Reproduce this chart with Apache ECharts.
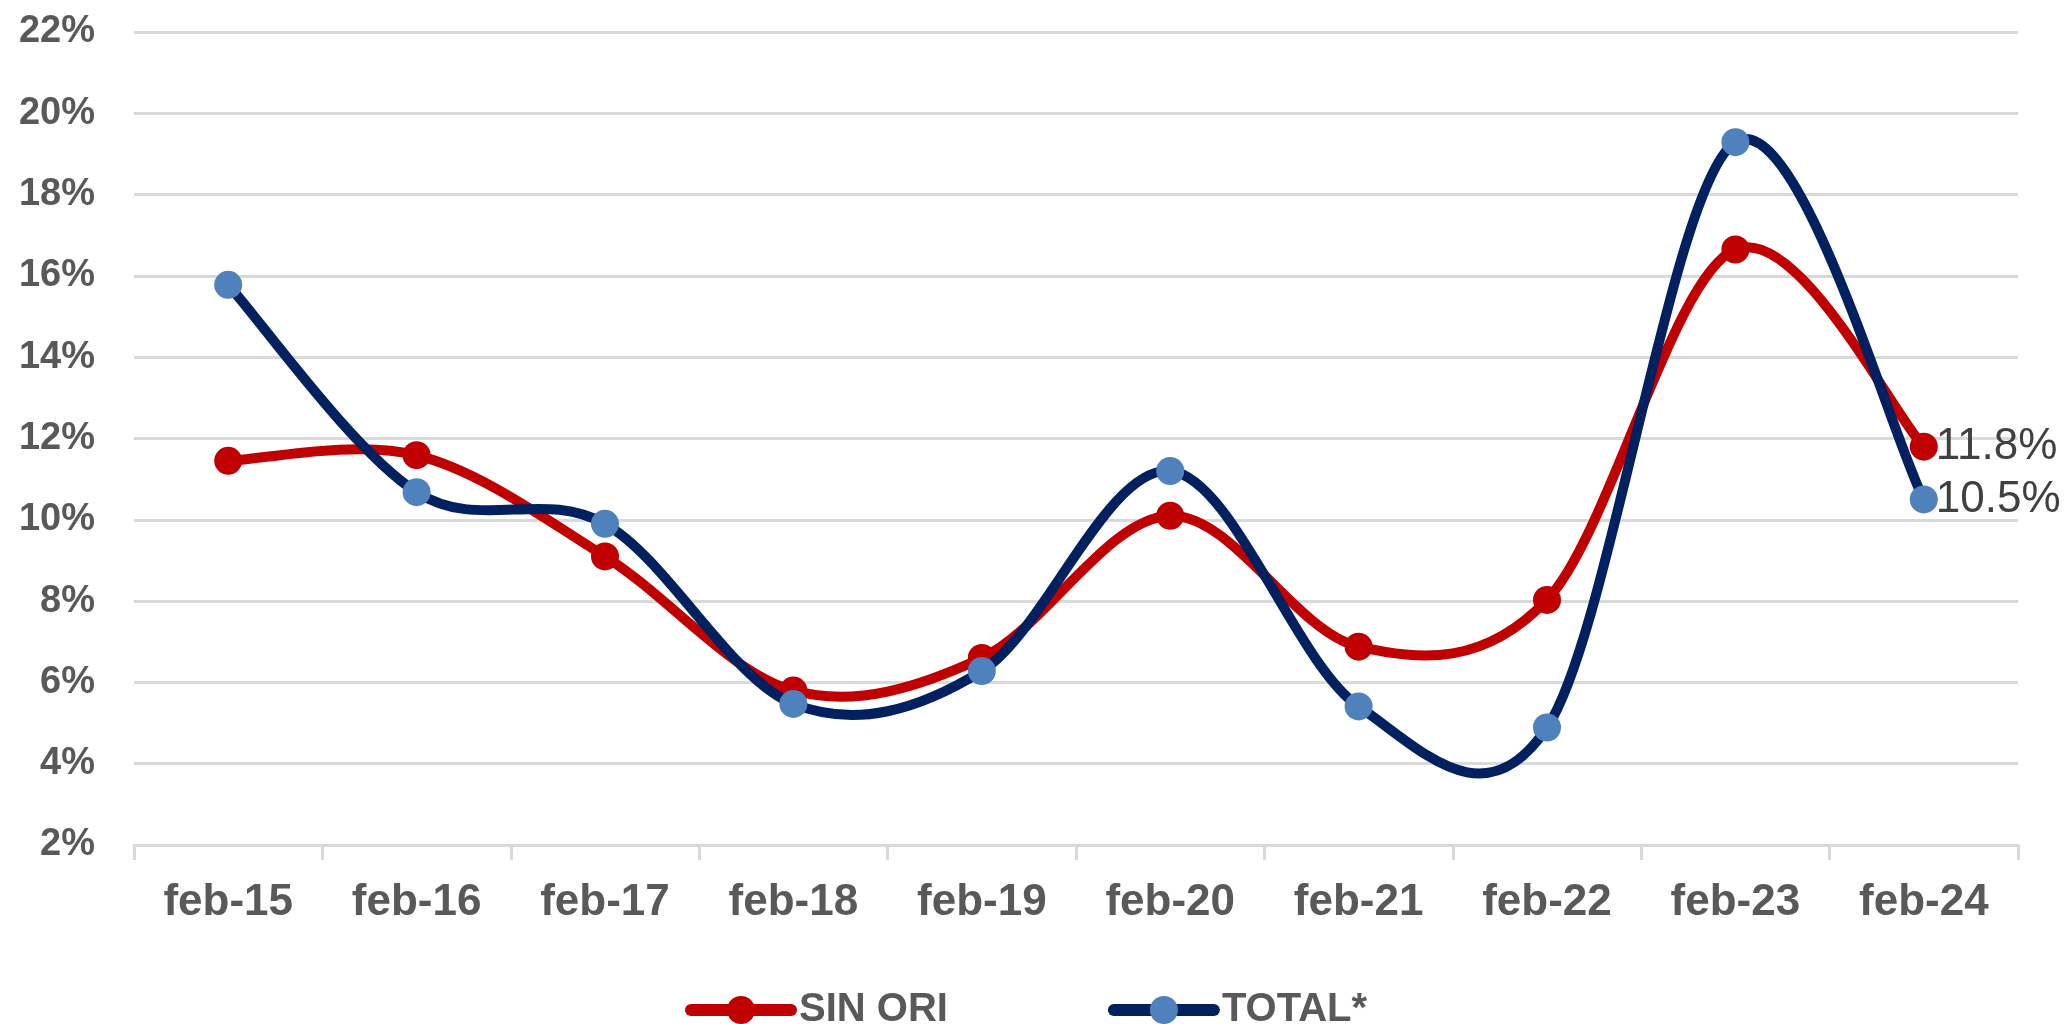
<!DOCTYPE html>
<html>
<head>
<meta charset="utf-8">
<script src="https://cdn.jsdelivr.net/npm/echarts@6/dist/echarts.min.js"></script>
<style>
  html, body { margin: 0; padding: 0; background: #ffffff; }
  #chart { width: 2069px; height: 1024px; }
</style>
</head>
<body>
<div id="chart"></div>
<script>
// categorias del eje x
var categories = ['feb-15', 'feb-16', 'feb-17', 'feb-18', 'feb-19', 'feb-20', 'feb-21', 'feb-22', 'feb-23', 'feb-24'];
// series (%)
var sinOri = [11.45, 11.59, 9.1, 5.8, 6.6, 10.1, 6.88, 8.03, 16.65, 11.8];
var total = [15.78, 10.68, 9.9, 5.47, 6.28, 11.2, 5.41, 4.89, 19.29, 10.5];
// eje y
var yMin = 2;
var yMax = 22;
var yStep = 2;

var RED = '#C00000';
var NAVY = '#002060';
var LIGHT_BLUE = '#4F81BD';
var FONT = 'Liberation Sans';

// curva suavizada tipo Excel (Catmull-Rom), un tramo por punto
function curveSegment(values, color) {
  return function (params, api) {
    var i = params.dataIndex;
    var n = values.length;
    function pt(k) {
      var j = Math.max(0, Math.min(n - 1, k));
      return api.coord([j, values[j]]);
    }
    var p0 = pt(i - 1), p1 = pt(i), p2 = pt(i + 1), p3 = pt(i + 2);
    return {
      type: 'bezierCurve',
      shape: {
        x1: p1[0], y1: p1[1],
        x2: p2[0], y2: p2[1],
        cpx1: p1[0] + (p2[0] - p0[0]) / 6,
        cpy1: p1[1] + (p2[1] - p0[1]) / 6,
        cpx2: p2[0] - (p3[0] - p1[0]) / 6,
        cpy2: p2[1] - (p3[1] - p1[1]) / 6
      },
      style: { stroke: color, lineWidth: 10, fill: 'none', lineCap: 'round' }
    };
  };
}

function segData(values) {
  return values.slice(0, values.length - 1).map(function (v, i) { return [i, v]; });
}

function lastLabel(values) {
  return function (p) {
    return p.dataIndex === values.length - 1 ? p.value.toFixed(1) + '%' : '';
  };
}

var chart = echarts.init(document.getElementById('chart'), null, { renderer: 'canvas' });

var option = {
  backgroundColor: '#ffffff',
  animation: false,
  grid: { left: 134, right: 51, top: 32, bottom: 179, containLabel: false },
  legend: {
    data: ['SIN ORI', 'TOTAL*'],
    left: 680,
    top: 985,
    itemWidth: 100,
    itemHeight: 35,
    itemGap: 160,
    lineStyle: { width: 12, opacity: 1, cap: 'round' },
    textStyle: { fontFamily: FONT, fontSize: 40, fontWeight: 'bold', color: '#595959', padding: [0, 0, 0, 3] }
  },
  xAxis: {
    type: 'category',
    data: categories,
    boundaryGap: true,
    axisLine: { lineStyle: { color: '#d9d9d9', width: 3 } },
    axisTick: { show: true, length: 15, lineStyle: { color: '#d9d9d9', width: 3 } },
    axisLabel: { fontFamily: FONT, fontSize: 44, fontWeight: 'bold', color: '#595959', margin: 36 }
  },
  yAxis: {
    type: 'value',
    min: yMin,
    max: yMax,
    interval: yStep,
    axisLine: { show: false },
    axisTick: { show: false },
    splitLine: { lineStyle: { color: '#d9d9d9', width: 3 } },
    axisLabel: { fontFamily: FONT, fontSize: 38, fontWeight: 'bold', color: '#595959', margin: 39, formatter: '{value}%' }
  },
  series: [
    {
      name: 'SIN ORI',
      type: 'line',
      data: sinOri,
      z: 3,
      symbol: 'circle',
      symbolSize: 28,
      itemStyle: { color: RED, borderWidth: 0 },
      lineStyle: { color: RED, width: 10, opacity: 0 },
      label: {
        show: true, position: 'right', distance: -2,
        fontFamily: FONT, fontSize: 44, color: '#404040',
        formatter: lastLabel(sinOri)
      },
      emphasis: { disabled: true }
    },
    {
      name: 'TOTAL*',
      type: 'line',
      data: total,
      z: 5,
      symbol: 'circle',
      symbolSize: 28,
      itemStyle: { color: LIGHT_BLUE, borderWidth: 0 },
      lineStyle: { color: NAVY, width: 10, opacity: 0 },
      label: {
        show: true, position: 'right', distance: -2,
        fontFamily: FONT, fontSize: 44, color: '#404040',
        formatter: lastLabel(total)
      },
      emphasis: { disabled: true }
    },
    {
      name: 'SIN ORI',
      type: 'custom',
      z: 2,
      silent: true,
      data: segData(sinOri),
      encode: { x: 0, y: 1 },
      renderItem: curveSegment(sinOri, RED)
    },
    {
      name: 'TOTAL*',
      type: 'custom',
      z: 4,
      silent: true,
      data: segData(total),
      encode: { x: 0, y: 1 },
      renderItem: curveSegment(total, NAVY)
    }
  ]
};

chart.setOption(option);
</script>
</body>
</html>
